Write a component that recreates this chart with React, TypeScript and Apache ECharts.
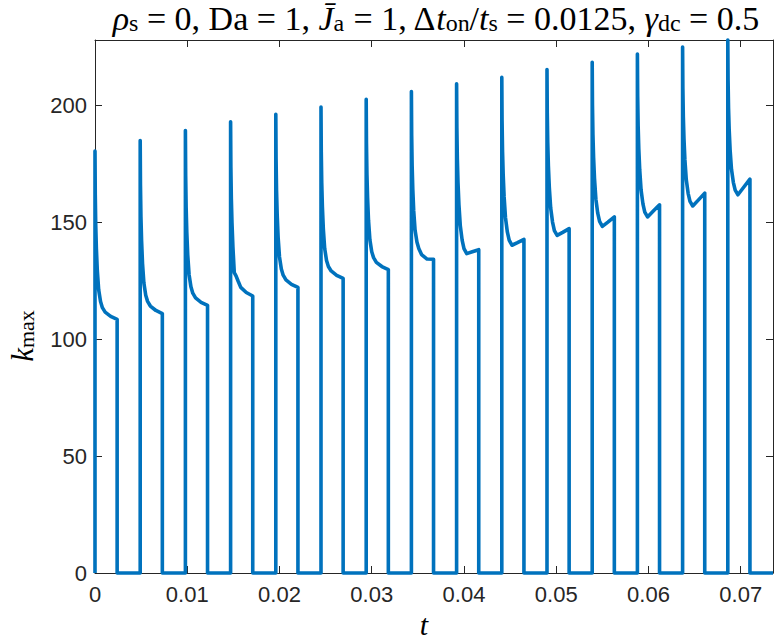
import React, { useEffect, useRef } from "react";
import * as echarts from "echarts";

// ---- data ----
const T_ON = 0.0024; // on-phase duration of each pulse
const T_END = 0.0735; // last time value
const PULSE_STARTS = [
  0, 0.0049, 0.0098, 0.0147, 0.0196, 0.0245, 0.0294, 0.0343, 0.0392, 0.0441,
  0.049, 0.0539, 0.0588, 0.0637, 0.0686,
];
// time offsets within each on-phase
const OFFSETS = [0, 0.00003, 0.00008, 0.00015, 0.00025, 0.0004, 0.0006, 0.0008, 0.0011, 0.0017, 0.0024];
// k_max values at those offsets, one row per pulse
const PULSE_VALUES = [
  [180.5, 161.8, 148.8, 138.7, 129.4, 121.1, 116.1, 113.5, 111.6, 109.8, 108.5],
  [185, 165.8, 152.4, 142.1, 132.5, 124, 118.8, 116.2, 114.2, 112.3, 111],
  [189.3, 169.9, 156.4, 145.9, 136.2, 127.6, 122.4, 119.7, 117.7, 115.8, 114.5],
  [193, 173.6, 160.2, 149.8, 139.5, 128.5, 127, 125, 122.2, 120, 118.5],
  [196.2, 177, 163.6, 153.3, 143.7, 135.2, 130, 127.4, 125.4, 123.5, 122.2],
  [199.3, 180.2, 167, 156.8, 147.3, 138.8, 133.7, 131.1, 129.2, 127.3, 126],
  [202.6, 183.7, 170.6, 160.4, 150.9, 142.5, 137.4, 134.9, 132.9, 131.1, 129.8],
  [206, 187.3, 174.3, 164.2, 154.9, 146.6, 141.6, 138.8, 136.2, 134.3, 134.2],
  [209.3, 190.4, 177.3, 167.1, 157.7, 148.6, 142.4, 138.8, 136.6, 137.4, 138.3],
  [212, 193.3, 180.4, 170.4, 161, 152, 145.9, 142.4, 140.2, 141.3, 142.7],
  [215.4, 196.9, 184.2, 174.2, 165, 156.1, 150.1, 146.5, 144.4, 145.7, 147.3],
  [218.5, 200.2, 187.6, 177.8, 168.7, 159.9, 153.9, 150.4, 148.3, 150.1, 152.3],
  [222, 203.9, 191.3, 181.6, 172.5, 163.8, 157.9, 154.4, 152.3, 154.7, 157.5],
  [225, 207.3, 195.1, 185.6, 176.7, 168.2, 162.4, 159, 157, 159.5, 162.5],
  [228, 210.8, 198.9, 189.6, 181, 172.7, 167.1, 163.8, 161.8, 164.9, 168.5],
];
const X_MIN = 0;
const X_MAX = 0.0735;
const X_INTERVAL = 0.01;
const Y_MIN = 0;
const Y_MAX = 228;
const Y_INTERVAL = 50;

function buildSeries(): [number, number][] {
  const pts: [number, number][] = [];
  PULSE_STARTS.forEach((t0, i) => {
    pts.push([t0, 0]);
    OFFSETS.forEach((dt, j) => pts.push([t0 + dt, PULSE_VALUES[i][j]]));
    pts.push([t0 + T_ON, 0]);
  });
  pts.push([T_END, 0]);
  return pts;
}

const SERIF = "'Liberation Serif', 'DejaVu Serif', serif";
const SANS = "'Liberation Sans', Arial, sans-serif";
const AX = "#262626";

export default function App() {
  const ref = useRef<HTMLDivElement>(null);
  useEffect(() => {
    if (!ref.current) return;
    const chart = echarts.init(ref.current, undefined, { renderer: "svg" });
    const main = { fontFamily: SERIF, fontSize: 34, lineHeight: 34, verticalAlign: "top", fill: "#000", color: "#000" };
    const it = { ...main, fontStyle: "italic" };
    const sub = { fontFamily: SERIF, fontSize: 24, lineHeight: 14, verticalAlign: "bottom", fill: "#000", color: "#000" };
    const subLow = { ...sub, lineHeight: 8 };
    const titleText =
      "{i|ρ}{s|s}{r| = 0, Da = 1, }{i|J̄}{s|a}{r| = 1, Δ}{i|t}{s|on}{r|/}{i|t}{s|s}{r| = 0.0125, }{i|γ}{d|dc}{r| = 0.5}";

    const xCommon = {
      type: "value",
      min: X_MIN,
      max: X_MAX,
      interval: X_INTERVAL,
      splitLine: { show: false },
      axisLine: { show: true, onZero: false, lineStyle: { color: AX, width: 1 } },
      axisTick: { show: true, inside: true, length: 7, lineStyle: { color: AX, width: 1 } },
    };
    const yCommon = {
      type: "value",
      min: Y_MIN,
      max: Y_MAX,
      interval: Y_INTERVAL,
      splitLine: { show: false },
      axisLine: { show: true, onZero: false, lineStyle: { color: AX, width: 1 } },
      axisTick: { show: true, inside: true, length: 7, lineStyle: { color: AX, width: 1 } },
    };

    chart.setOption({
      animation: false,
      backgroundColor: "#fff",
      grid: { left: 95, right: 5, top: 40, bottom: 67, containLabel: false },
      xAxis: [
        {
          ...xCommon,
          position: "bottom",
          axisLabel: {
            show: true,
            showMaxLabel: false,
            margin: 10,
            fontFamily: SANS,
            fontSize: 22,
            color: AX,
            formatter: (v: number) => (v === 0 ? "0" : String(+v.toFixed(2))),
          },
        },
        { ...xCommon, position: "top", axisLabel: { show: false } },
      ],
      yAxis: [
        {
          ...yCommon,
          position: "left",
          axisLabel: {
            show: true,
            showMaxLabel: false,
            margin: 8,
            fontFamily: SANS,
            fontSize: 22,
            color: AX,
          },
        },
        { ...yCommon, position: "right", axisLabel: { show: false } },
      ],
      series: [
        {
          type: "line",
          data: buildSeries(),
          xAxisIndex: 0,
          yAxisIndex: 0,
          showSymbol: false,
          symbol: "none",
          clip: false,
          lineStyle: { color: "#0072BD", width: 3.6, join: "round" },
        },
      ],
      graphic: [
        {
          type: "text",
          x: 436,
          y: 1,
          style: {
            text: titleText,
            align: "center",
            verticalAlign: "top",
            fontFamily: SERIF,
            fontSize: 34,
            fill: "#000",
            rich: { r: main, i: it, s: sub, d: subLow },
          },
        },
        {
          type: "text",
          x: 424,
          y: 624,
          style: {
            text: "t",
            align: "center",
            verticalAlign: "middle",
            fontFamily: SERIF,
            fontStyle: "italic",
            fontSize: 30,
            fill: "#000",
          },
        },
        {
          type: "text",
          x: 22,
          y: 336,
          rotation: Math.PI / 2,
          style: {
            text: "{i|k}{s|max}",
            align: "center",
            verticalAlign: "middle",
            fontFamily: SERIF,
            fontSize: 30,
            fill: "#000",
            rich: {
              i: { ...it, fontSize: 31, lineHeight: 30 },
              s: { ...sub, fontSize: 22, lineHeight: 12 },
            },
          },
        },
      ],
    });
    return () => chart.dispose();
  }, []);
  return (
    <div
      ref={ref}
      style={{ position: "fixed", left: 0, top: 0, width: 778, height: 640, background: "#fff" }}
    />
  );
}
